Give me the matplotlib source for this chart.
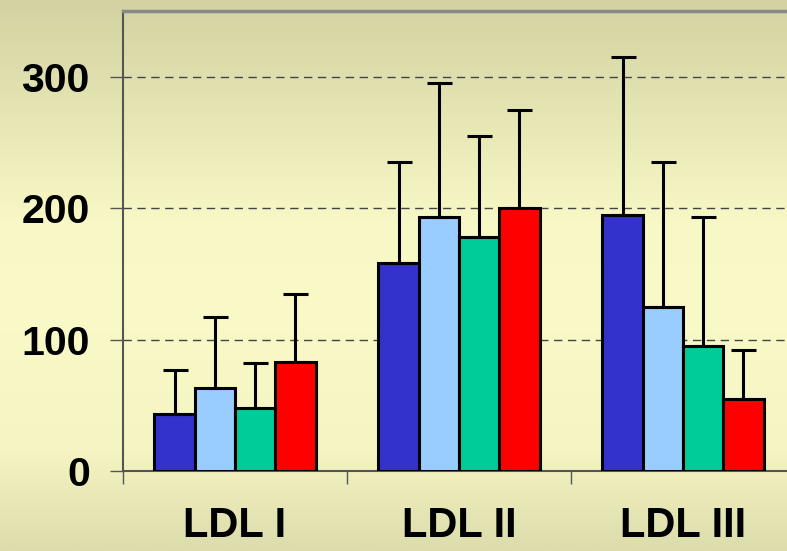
import numpy as np
import matplotlib
matplotlib.use("Agg")
import matplotlib.pyplot as plt
from matplotlib.colors import LinearSegmentedColormap

categories = ["LDL I", "LDL II", "LDL III"]
series_colors = ["#3333CC", "#99CCFF", "#00CC99", "#FF0000"]
means = [
    [43, 158, 195],
    [63, 193, 125],
    [48, 178, 95],
    [83, 200, 55],
]
upper = [
    [77, 235, 315],
    [117, 295, 235],
    [82, 255, 193],
    [135, 275, 92],
]
yticks = [0, 100, 200, 300]

plt.rcParams['font.family'] = ['Liberation Sans', 'DejaVu Sans']

W, H = 787, 551
fig = plt.figure(figsize=(W / 100, H / 100), dpi=100)

# background gradient
bg = fig.add_axes([0, 0, 1, 1], zorder=-10)
bg.axis("off")
cmap = LinearSegmentedColormap.from_list(
    "bg",
    [(0.0, "#D2D2A2"), (0.40, "#F8F8C6"), (0.55, "#FAFAC8"),
     (0.82, "#F5F5C3"), (1.0, "#DCDCAC")])
grad = np.linspace(0, 1, 256).reshape(-1, 1)
bg.imshow(grad, aspect="auto", cmap=cmap, extent=[0, 1, 1, 0])
bg.set_xlim(0, 1)
bg.set_ylim(1, 0)

left = 123 / W
bottom = (H - 471) / H
top = (H - 11) / H
ax = fig.add_axes([left, bottom, 672 / W, top - bottom])
ax.patch.set_alpha(0)

x = np.arange(len(categories))
bw = 0.18
offsets = (np.arange(4) - 1.5) * bw
for i in range(4):
    m = np.array(means[i])
    u = np.array(upper[i])
    ax.bar(x + offsets[i], m, bw, color=series_colors[i], edgecolor="black",
           linewidth=2.2, zorder=3)
    ax.errorbar(x + offsets[i], m, yerr=[np.zeros_like(m), u - m], fmt="none",
                ecolor="black", elinewidth=2.2, capsize=9, capthick=2.2,
                zorder=4)

ax.set_xlim(-0.5, 2.5)
ax.set_ylim(0, 350)
ax.set_yticks(yticks)
ax.set_yticklabels([str(t) for t in yticks], fontsize=29.5, fontweight="bold")
ax.set_xticks(x)
ax.set_xticklabels(categories, fontsize=30, fontweight="bold")
ax.set_xticks([-0.5, 0.5, 1.5, 2.5], minor=True)
ax.tick_params(axis="x", which="major", length=0, pad=25)
ax.tick_params(axis="x", which="minor", length=9.5, width=1, color="#555555",
               direction="out")
ax.tick_params(axis="y", length=9.5, width=1, color="#555555", pad=14.5)

ax.yaxis.grid(True, linestyle=(0, (6, 4)), color="#444444", linewidth=1.0,
              zorder=1)
ax.set_axisbelow(True)

ax.spines["left"].set_color("#555555")
ax.spines["left"].set_linewidth(1.5)
ax.spines["bottom"].set_color("#555555")
ax.spines["bottom"].set_linewidth(1.5)
ax.spines["top"].set_color("#888888")
ax.spines["top"].set_linewidth(2.5)
ax.spines["right"].set_visible(False)

fig.savefig("out.png", dpi=100)
